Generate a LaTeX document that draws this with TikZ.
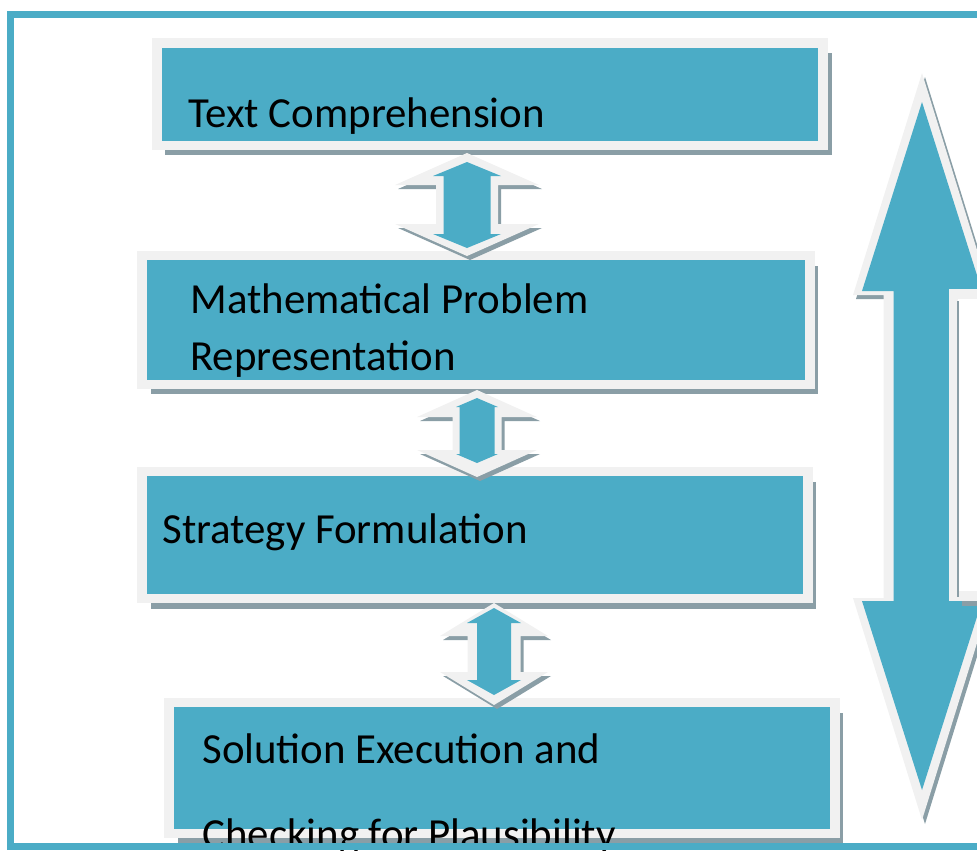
\documentclass[tikz,border=0pt]{standalone}
\usepackage{fontspec}
\setmainfont{Carlito}
\usetikzlibrary{shadows}

\definecolor{stepblue}{RGB}{75,172,198}
\definecolor{rimgray}{RGB}{241,241,241}
\definecolor{shadegray}{RGB}{138,158,166}

%% up-down arrow: [style] centre x, top y, bottom y, head half width, shaft half width, head length
\newcommand{\updown}[7][]{%
  \path[#1] (#2,#3) -- (#2+#5,#3+#7) -- (#2+#6,#3+#7) -- (#2+#6,#4-#7) -- (#2+#5,#4-#7)
    -- (#2,#4) -- (#2-#5,#4-#7) -- (#2-#6,#4-#7) -- (#2-#6,#3+#7) -- (#2-#5,#3+#7) -- cycle;}

\begin{document}
\begin{tikzpicture}[x=0.02cm,y=-0.02cm,
    stage/.style={draw=rimgray,fill=stepblue,line width=0.19cm,rectangle,anchor=center,
      drop shadow={shadow xshift=0.17cm,shadow yshift=-0.2cm,fill=shadegray,opacity=1}},
    caption/.style={anchor=base west,inner sep=0pt,font=\fontsize{24.4}{28}\selectfont},
    rim/.style={fill=rimgray,
      drop shadow={shadow xshift=0.06cm,shadow yshift=-0.08cm,fill=shadegray,opacity=1}},
    core/.style={fill=stepblue}]
    \useasboundingbox (0,0) rectangle (977,850);
    \clip (0,0) rectangle (977,850);

    %% Long arrow on the right
    \updown[rim]{922}{73}{820}{69}{38.5}{222}
    \updown[core]{922}{102}{790}{60}{28.5}{189}
    \node[stage,fill=white,minimum width=1.74cm,minimum height=6.04cm] (side) at (997,445) {};
    \draw[shadegray,line width=0.04cm] (958,301) -- (958,597);

    %% Stages
    \node[stage,minimum width=13.33cm,minimum height=2.05cm] (text) at (490,94) {};
    \node[stage,minimum width=13.36cm,minimum height=2.58cm] (repr) at (476,320) {};
    \node[stage,minimum width=13.32cm,minimum height=2.54cm] (strat) at (475,535) {};
    \node[stage,minimum width=13.32cm,minimum height=2.62cm] (solve) at (502,768) {};

    %% Small arrows between the stages
    \updown[rim]{467}{153}{256}{72}{31}{32}
    \updown[core]{467}{162}{248}{34}{23.5}{14}
    \updown[rim]{477}{390}{477}{60}{24.5}{27}
    \updown[core]{477}{398}{463}{21}{17.5}{9}
    \updown[rim]{494}{603}{705}{54}{26.5}{33}
    \updown[core]{494}{608}{695}{27}{17}{15}

    %% Captions
    \node[caption] (textlbl) at (188,127) {Text Comprehension};
    \node[caption] (reprlbl) at (190,313) {Mathematical Problem};
    \node[caption] (reprlbl2) at (190,370) {Representation};
    \node[caption] (stratlbl) at (162,543) {Strategy Formulation};
    \node[caption] (solvelbl) at (202,763) {Solution Execution and};
    \node[caption] (solvelbl2) at (202,848) {Checking for Plausibility};

    %% Frame
    \draw[stepblue,line width=0.14cm] (10.5,14.5) rectangle (1100,846.5);
\end{tikzpicture}
\end{document}
